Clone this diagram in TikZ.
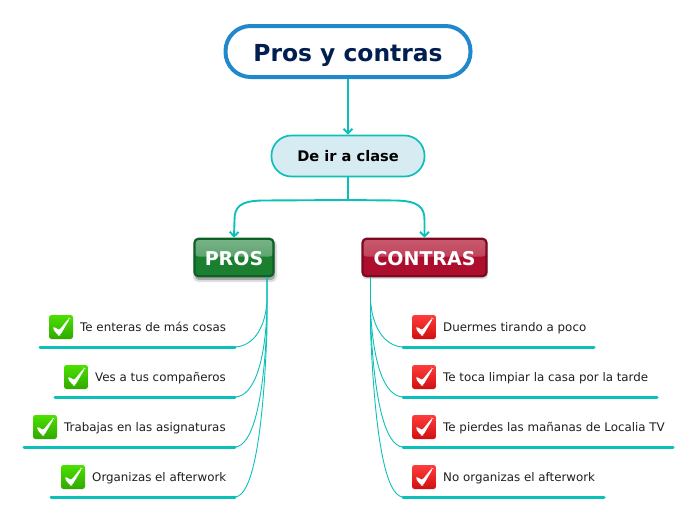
\documentclass[tikz,border=0pt]{standalone}
\usepackage{fontspec}
\setmainfont{DejaVu Sans}
\usetikzlibrary{arrows.meta,calc}
\definecolor{teal}{HTML}{0CC0BA}
\definecolor{titleblue}{HTML}{2288CC}
\definecolor{titletext}{HTML}{001F50}
\definecolor{subfill}{HTML}{D6ECF2}
\definecolor{prosdark}{HTML}{1A8030}
\definecolor{proslight}{HTML}{78B388}
\definecolor{prosborder}{HTML}{0F5F28}
\definecolor{condark}{HTML}{AE0E2E}
\definecolor{conlight}{HTML}{C85A6E}
\definecolor{conborder}{HTML}{7A0A20}
\definecolor{gtop}{HTML}{4CE000}
\definecolor{gbot}{HTML}{30A800}
\definecolor{rtop}{HTML}{FF3C3C}
\definecolor{rbot}{HTML}{D01010}
\tikzset{
  x=1pt,y=-1pt,
  conn/.style={draw=teal,line width=1.9pt},
  head/.style={conn,-{Straight Barb[length=4.5pt,width=9pt,line width=1.9pt]}},
  thin conn/.style={draw=teal,line width=0.9pt},
  base line/.style={draw=teal,line width=3pt,line cap=round},
  title box/.style={draw=titleblue,line width=4pt,fill=white,rounded corners=25pt,minimum width=245pt,minimum height=51pt,inner sep=0pt,text=titletext,text height=24pt,text depth=5pt,font=\bfseries\fontsize{23.4}{27}\selectfont},
  sub box/.style={draw=teal,line width=1.7pt,fill=subfill,rounded corners=20pt,minimum width=153pt,minimum height=41pt,inner sep=0pt,text=black,text height=14pt,text depth=3pt,font=\bfseries\fontsize{14.6}{17}\selectfont},
  main box/.style n args={3}{line width=2.2pt,rounded corners=4pt,inner sep=0pt,minimum height=37.5pt,draw=#3,fill=#1,
    path picture={\shade[top color=#2,bottom color=#1!60!#2] (path picture bounding box.north west) rectangle ($(path picture bounding box.east)+(0,1pt)$);}},
  main text/.style={text=white,inner sep=0pt,text height=14pt,text depth=0pt,font=\bfseries\fontsize{19}{23}\selectfont},
  item/.style={anchor=west,inner sep=0pt,text=black!88,text height=9pt,text depth=2.5pt,font=\fontsize{11.85}{15}\selectfont},
  check/.style n args={2}{rounded corners=2.5pt,minimum size=24pt,inner sep=0pt,top color=#1,bottom color=#2,draw=none,
    path picture={\fill[white] let \p0=(path picture bounding box.center) in
      (\x0-8.5pt,\y0-1.5pt) -- (\x0-6.5pt,\y0+0.5pt) -- (\x0-2.2pt,\y0-3.5pt) -- (\x0+8pt,\y0+9pt) -- (\x0+9pt,\y0+8.5pt) -- (\x0-1pt,\y0-8.5pt) -- (\x0-2.8pt,\y0-8.5pt) -- cycle;}},
}
\begin{document}
\begin{tikzpicture}
\useasboundingbox (0,0) rectangle (696,520);
\node[title box] (title) at (348,51.5) {Pros y contras};
\node[sub box] (sub) at (348,156) {De ir a clase};
\fill[black,opacity=.12,rounded corners=5pt] (193,240) rectangle (277,282);
\fill[black,opacity=.25,rounded corners=4pt] (195,241) rectangle (275,280);
\fill[black,opacity=.12,rounded corners=4pt] (362,240) rectangle (488,279);
\node[main box={prosdark}{proslight}{prosborder},minimum width=79pt] (pros) at (234,257.5) {};
\node[main box={condark}{conlight}{conborder},minimum width=124pt] (contras) at (424.5,257.5) {};
\node[main text] (prostxt) at (234,258) {PROS};
\node[main text] (contrastxt) at (424.5,258) {CONTRAS};

\draw[head] (title.south) -- (sub.north);
\coordinate (fork) at (348,200);
\draw[conn] (sub.south) -- (fork);
\draw[head] (fork) -- (262,200.5) .. controls (240,201) and (234.5,207) .. (234.5,220) -- (pros.north);
\draw[head] (fork) -- (396,200.5) .. controls (418,201) and (424.5,207) .. (424.5,220) -- (contras.north);

% left
\foreach \n/\y/\xl/\xi/\t in {a/347/39/61/Te enteras de más cosas,b/397/54/76/Ves a tus compañeros,c/447/23/45/Trabajas en las asignaturas,d/497/50/73/Organizas el afterwork}{
  \coordinate (\n s) at (\xl+1,\y);
  \coordinate (\n e) at (235,\y);
  \node[check={gtop}{gbot}] (\n i) at (\xi,\y-20) {};
  \node[item] (\n t) at (\xi+19,\y-19) {\t};
  \draw[base line] (\n s) -- (\n e);
}
\coordinate (pb) at (267,277);
\draw[thin conn] (pb) -- (267,300) .. controls (266,325) and (255,346) .. (ae);
\draw[thin conn] (pb) -- (267,310) .. controls (265,360) and (255,396) .. (be);
\draw[thin conn] (pb) -- (267,320) .. controls (264,400) and (253,446) .. (ce);
\draw[thin conn] (pb) -- (267,330) .. controls (263,440) and (252,496) .. (de);

% right
\foreach \n/\y/\xr/\t in {e/347/595/Duermes tirando a poco,f/397/658/Te toca limpiar la casa por la tarde,g/447/674/Te pierdes las mañanas de Localia TV,h/497/605/No organizas el afterwork}{
  \coordinate (\n s) at (403,\y);
  \coordinate (\n e) at (\xr-1,\y);
  \node[check={rtop}{rbot}] (\n i) at (424,\y-20) {};
  \node[item] (\n t) at (443,\y-19) {\t};
  \draw[base line] (\n s) -- (\n e);
}
\coordinate (cb) at (370.5,277);
\draw[thin conn] (cb) -- (370.5,300) .. controls (372,325) and (383,346) .. (es);
\draw[thin conn] (cb) -- (370.5,310) .. controls (373,360) and (383,396) .. (fs);
\draw[thin conn] (cb) -- (370.5,320) .. controls (374,400) and (385,446) .. (gs);
\draw[thin conn] (cb) -- (370.5,330) .. controls (375,440) and (386,496) .. (hs);
\end{tikzpicture}
\end{document}
